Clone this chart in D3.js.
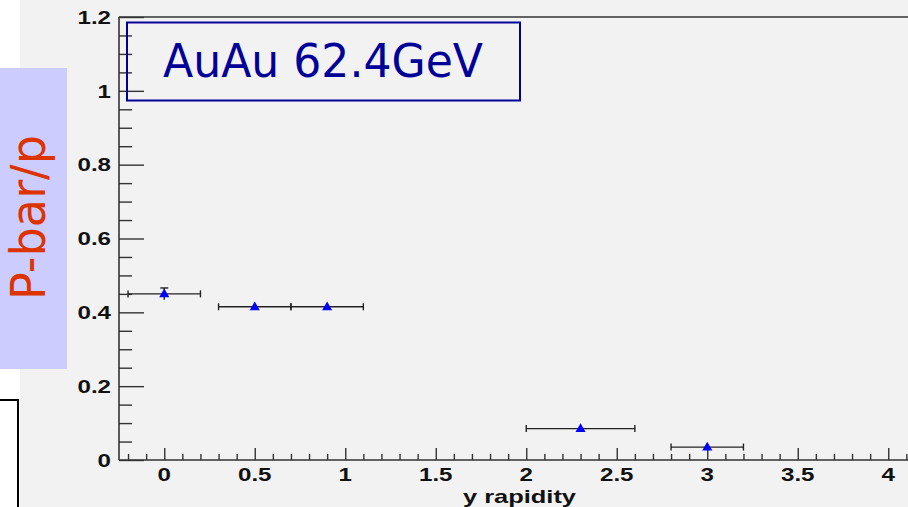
<!DOCTYPE html>
<html>
<head>
<meta charset="utf-8">
<script src="https://cdn.jsdelivr.net/npm/d3@7"></script>
<style>
  body { margin: 0; padding: 0; overflow: hidden; background: #fff; }
  svg { display: block; }
</style>
</head>
<body>
<svg id="chart" width="908" height="507"></svg>
<script>
// data
var rapidity = [0, 0.5, 0.9, 2.3, 3.0];
var ratio = [0.45, 0.415, 0.415, 0.085, 0.035];
var binLow = [-0.2, 0.3, 0.7, 2.0, 2.8];
var binHigh = [0.2, 0.7, 1.1, 2.6, 3.2];
var ratioErr = [0.016, 0, 0, 0, 0];

var xTicks = [0, 0.5, 1, 1.5, 2, 2.5, 3, 3.5, 4];
var yTicks = [0, 0.2, 0.4, 0.6, 0.8, 1, 1.2];
var xTickLabels = ["0", "0.5", "1", "1.5", "2", "2.5", "3", "3.5", "4"];
var yTickLabels = ["0", "0.2", "0.4", "0.6", "0.8", "1", "1.2"];

var titleText = "AuAu 62.4GeV";
var xTitle = "y rapidity";
var yTitle = "P-bar/p";

var labelFont = "Liberation Sans, Arial, sans-serif";
var stretch = 1.27;   // root labels look wider than liberation

var svg = d3.select("#chart");

/////////////////// background ///////////////////
svg.append("rect")
  .attr("x", 20).attr("y", 0)
  .attr("width", 888).attr("height", 507)
  .style("fill", "#f2f2f2");

// white box bottom left
svg.append("rect")
  .attr("x", -2).attr("y", 400)
  .attr("width", 20).attr("height", 120)
  .style("fill", "#fff")
  .style("stroke", "#000")
  .style("stroke-width", 2);

// scales
var x = d3.scaleLinear().domain([-0.25, 4.25]).range([119, 933.5]);
var y = d3.scaleLinear().domain([0, 1.2]).range([460, 17]);

var plot = svg.append("g");

// top frame line
plot.append("line")
  .attr("x1", 119).attr("x2", 908)
  .attr("y1", y(1.2)).attr("y2", y(1.2))
  .style("stroke", "#333").style("stroke-width", 1.6);

/////////////////// x axis ///////////////////
var xAxis = d3.axisTop(x)
  .tickValues(d3.range(-2, 43).map(function(d) { return d / 10; }))
  .tickSize(6)
  .tickFormat("");

var gx = plot.append("g")
  .attr("transform", "translate(0," + y(0) + ")")
  .call(xAxis);
gx.selectAll(".tick line")
  .attr("y2", function(d) { return Math.abs(d * 2 - Math.round(d * 2)) < 1e-6 ? -12 : -6; });
gx.select(".domain").remove();
plot.append("line")
  .attr("x1", 119).attr("x2", 908)
  .attr("y1", y(0)).attr("y2", y(0))
  .style("stroke", "#333").style("stroke-width", 1.6);

plot.selectAll(".xlabel")
  .data(xTicks)
  .enter().append("text")
  .attr("class", "xlabel")
  .attr("transform", function(d) { return "translate(" + x(d) + ",481) scale(" + stretch + ",1)"; })
  .attr("text-anchor", "middle")
  .attr("font-family", labelFont)
  .attr("font-weight", "700")
  .attr("font-size", 19)
  .style("fill", "#111")
  .text(function(d, i) { return xTickLabels[i]; });

/////////////////// y axis ///////////////////
var yAxis = d3.axisRight(y)
  .tickValues(d3.range(0, 25).map(function(d) { return d * 0.05; }))
  .tickFormat("");

var gy = plot.append("g")
  .attr("transform", "translate(119,0)")
  .call(yAxis);
gy.selectAll(".tick line")
  .attr("x2", function(d) { return Math.abs(d * 5 - Math.round(d * 5)) < 1e-6 ? 25 : 13; });
gy.select(".domain").remove();
plot.append("line")
  .attr("x1", 119).attr("x2", 119)
  .attr("y1", y(1.2)).attr("y2", y(0))
  .style("stroke", "#333").style("stroke-width", 1.6);

plot.selectAll(".ylabel")
  .data(yTicks)
  .enter().append("text")
  .attr("class", "ylabel")
  .attr("transform", function(d) { return "translate(111," + (y(d) + 6.8) + ") scale(" + stretch + ",1)"; })
  .attr("text-anchor", "end")
  .attr("font-family", labelFont)
  .attr("font-weight", "700")
  .attr("font-size", 19)
  .style("fill", "#111")
  .text(function(d, i) { return yTickLabels[i]; });

plot.selectAll(".tick line").style("stroke", "#333").style("stroke-width", 1.4);

// axis title
svg.append("text")
  .attr("x", 463)
  .attr("y", 503)
  .attr("font-family", labelFont)
  .attr("font-weight", "700")
  .attr("font-size", 19)
  .attr("textLength", 113)
  .attr("lengthAdjust", "spacingAndGlyphs")
  .style("fill", "#111")
  .text(xTitle);

/////////////////// points ///////////////////
var pts = rapidity.map(function(d, i) {
  return {x: d, y: ratio[i], lo: binLow[i], hi: binHigh[i], err: ratioErr[i]};
});

var errs = plot.selectAll(".err").data(pts).enter().append("g").attr("class", "err")
  .style("stroke", "#222").style("stroke-width", 1.4);

errs.append("line")
  .attr("x1", function(d) { return x(d.lo); })
  .attr("x2", function(d) { return x(d.hi); })
  .attr("y1", function(d) { return y(d.y); })
  .attr("y2", function(d) { return y(d.y); });
errs.append("line")
  .attr("x1", function(d) { return x(d.lo); })
  .attr("x2", function(d) { return x(d.lo); })
  .attr("y1", function(d) { return y(d.y) - 3.5; })
  .attr("y2", function(d) { return y(d.y) + 3.5; });
errs.append("line")
  .attr("x1", function(d) { return x(d.hi); })
  .attr("x2", function(d) { return x(d.hi); })
  .attr("y1", function(d) { return y(d.y) - 3.5; })
  .attr("y2", function(d) { return y(d.y) + 3.5; });

// vertical error where there is one
var vErr = errs.filter(function(d) { return d.err > 0; });
vErr.append("line")
  .attr("x1", function(d) { return x(d.x); })
  .attr("x2", function(d) { return x(d.x); })
  .attr("y1", function(d) { return y(d.y + d.err); })
  .attr("y2", function(d) { return y(d.y - d.err); });
vErr.append("line")
  .attr("x1", function(d) { return x(d.x) - 4; })
  .attr("x2", function(d) { return x(d.x) + 4; })
  .attr("y1", function(d) { return y(d.y + d.err); })
  .attr("y2", function(d) { return y(d.y + d.err); });

plot.selectAll(".marker").data(pts).enter().append("path")
  .attr("class", "marker")
  .attr("d", d3.symbol().type(d3.symbolTriangle).size(44))
  .attr("transform", function(d) { return "translate(" + x(d.x) + "," + (y(d.y) + 0.5) + ")"; })
  .style("fill", "#0000ff");

/////////////////// title box ///////////////////
svg.append("rect")
  .attr("x", 127).attr("y", 22.5)
  .attr("width", 393).attr("height", 78)
  .style("fill", "none")
  .style("stroke", "#000099")
  .style("stroke-width", 2);

svg.append("text")
  .attr("x", 163)
  .attr("y", 77)
  .attr("font-family", "DejaVu Sans, sans-serif")
  .attr("font-size", 46)
  .attr("textLength", 320)
  .attr("lengthAdjust", "spacingAndGlyphs")
  .style("fill", "#000099")
  .text(titleText);

/////////////////// y title box ///////////////////
svg.append("rect")
  .attr("x", 0).attr("y", 68)
  .attr("width", 67).attr("height", 301)
  .style("fill", "#ccccff");

svg.append("text")
  .attr("transform", "translate(45,300) rotate(-90)")
  .attr("font-family", "DejaVu Sans, sans-serif")
  .attr("font-size", 48)
  .attr("textLength", 165)
  .attr("lengthAdjust", "spacingAndGlyphs")
  .style("fill", "#dd3300")
  .text(yTitle);
</script>
</body>
</html>
